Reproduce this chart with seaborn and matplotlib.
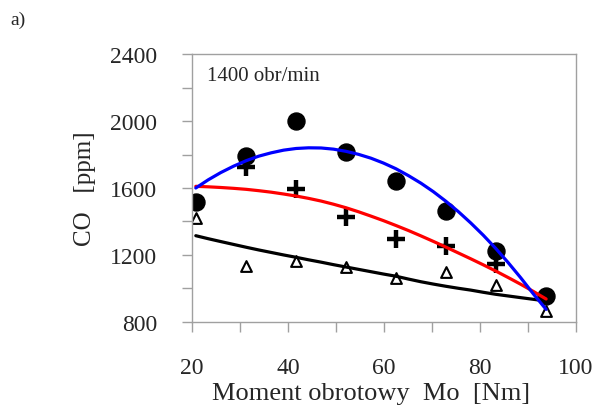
import numpy as np
import pandas as pd
import seaborn as sns
import matplotlib.pyplot as plt
from matplotlib.ticker import MultipleLocator

# Measured points #############################################################

moment = [20.8, 31.3, 41.7, 52.1, 62.5, 72.9, 83.3, 93.8]
co_circle = [1515, 1790, 2002, 1814, 1639, 1462, 1223, 953]
co_triangle = [1422, 1132, 1161, 1128, 1062, 1098, 1018, 863]

moment_cross = [31.3, 41.7, 52.1, 62.5, 72.9, 83.3]
co_cross = [1724, 1591, 1426, 1293, 1253, 1148]

# Trend lines #################################################################

moment_fit = [20.8, 23.4, 26.0, 28.65, 31.3, 33.9, 36.5, 39.1, 41.7, 44.3,
              46.9, 49.5, 52.1, 54.7, 57.3, 59.9, 62.5, 65.1, 67.7, 70.3,
              72.9, 75.5, 78.1, 80.7, 83.3, 85.9, 88.5, 91.15, 93.8]
fit_blue = [1600, 1649, 1692, 1730, 1763, 1790, 1810, 1826, 1836, 1840,
            1839, 1832, 1819, 1801, 1778, 1749, 1715, 1674, 1629, 1578,
            1521, 1459, 1391, 1318, 1239, 1154, 1064, 967, 875]
fit_red = [1610, 1607, 1603, 1598, 1592, 1584, 1575, 1564, 1552, 1538,
           1522, 1503, 1482, 1458, 1432, 1405, 1376, 1346, 1314, 1281,
           1247, 1212, 1177, 1141, 1104, 1065, 1025, 982, 937]
fit_black = [1315, 1297, 1280, 1263, 1246, 1230, 1215, 1200, 1186, 1171,
             1157, 1142, 1128, 1114, 1100, 1086, 1073, 1056, 1040, 1026,
             1013, 1001, 990, 977, 965, 955, 945, 935, 925]

n = len(moment_fit)
df_fit = pd.DataFrame({
    'x': moment_fit * 3,
    'y': fit_black + fit_red + fit_blue,
    'curve': ['black'] * n + ['red'] * n + ['blue'] * n,
})

# Plot ########################################################################

sns.set_style('white')
plt.rcParams['font.family'] = ['Liberation Serif', 'DejaVu Serif']

fig = plt.figure(figsize=(5.98, 4.14), dpi=100)
ax = fig.add_axes([0.321, 0.220, 0.642, 0.647])

sns.scatterplot(x=moment, y=co_circle, ax=ax, marker='o', s=150,
                color='black', edgecolor='black', zorder=2)
sns.scatterplot(x=moment_cross, y=co_cross, ax=ax, marker='+', s=150,
                color='black', linewidth=3.2, zorder=2)
sns.scatterplot(x=moment, y=co_triangle, ax=ax, marker='^', s=60,
                facecolor='white', edgecolor='black', linewidth=1.5, zorder=2)

sns.lineplot(data=df_fit, x='x', y='y', hue='curve',
             palette={'black': 'black', 'red': '#ff0000', 'blue': '#0000ff'},
             linewidth=2.3, legend=False, ax=ax, zorder=3)

ax.set_xlim(20, 100)
ax.set_ylim(800, 2400)
ax.xaxis.set_major_locator(MultipleLocator(20))
ax.xaxis.set_minor_locator(MultipleLocator(10))
ax.yaxis.set_major_locator(MultipleLocator(400))
ax.yaxis.set_minor_locator(MultipleLocator(200))

for side in ax.spines.values():
    side.set_color('#a0a0a0')
    side.set_linewidth(1.0)

ax.tick_params(which='both', direction='out', length=7, width=1,
               color='#a0a0a0', bottom=True, left=True)
ax.tick_params(axis='both', which='major', labelsize=17, pad=18)

ax.set_xlabel('Moment obrotowy  Mo  [Nm]', fontsize=19)
ax.xaxis.set_label_coords(0.466, -0.225)
ax.set_ylabel('CO   [ppm]', fontsize=18, labelpad=10)

ax.text(0.04, 0.92, '1400 obr/min', transform=ax.transAxes,
        fontsize=15, va='center', ha='left')
fig.text(0.017, 0.95, 'a)', fontsize=14, va='center', ha='left')

fig.savefig('out.png', dpi=100)
